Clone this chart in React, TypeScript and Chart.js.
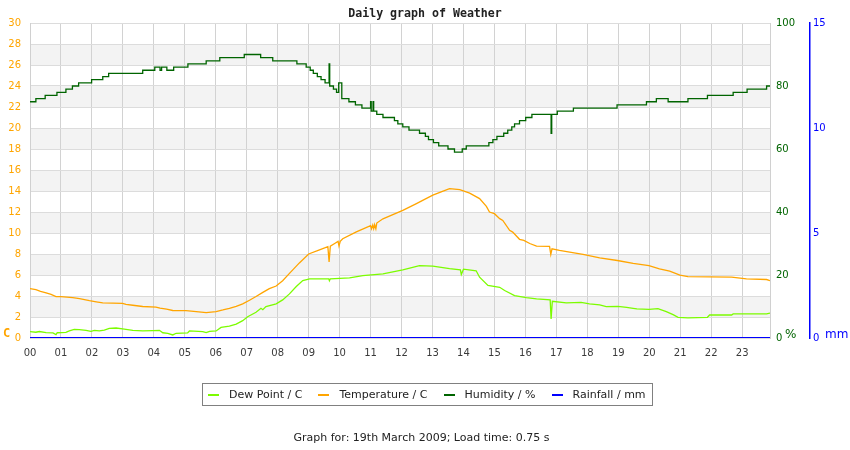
import React, { useEffect, useRef } from 'react';
import { Chart, registerables } from 'chart.js';

Chart.register(...registerables);

const hourLabels = ['00','01','02','03','04','05','06','07','08','09','10','11','12','13','14','15','16','17','18','19','20','21','22','23'];

const tempTimes = [0,0.19,0.34,0.52,0.68,0.84,1.0,1.38,1.6,1.92,2.14,2.35,2.99,3.1,3.32,3.64,4.07,4.2,4.41,4.61,5.04,5.37,5.69,6.01,6.23,6.44,6.66,6.87,7.09,7.3,7.52,7.73,7.95,8.16,8.38,8.7,9.0,9.35,9.62,9.66,9.7,9.84,9.95,9.98,10.02,10.1,10.54,11.0,11.03,11.07,11.1,11.13,11.17,11.2,11.4,12.04,12.48,13.01,13.3,13.55,13.88,14.2,14.52,14.74,14.84,15.0,15.17,15.27,15.49,15.59,15.81,15.95,16.14,16.36,16.78,16.82,16.86,17.1,17.43,17.86,18.4,18.97,19.48,19.99,20.33,20.66,20.99,21.25,22.66,23.14,23.79,23.9];
const tempValues = [4.7,4.6,4.45,4.3,4.15,3.95,3.95,3.85,3.75,3.55,3.45,3.35,3.3,3.2,3.12,3.0,2.95,2.85,2.75,2.62,2.6,2.52,2.42,2.52,2.67,2.83,3.02,3.25,3.6,3.95,4.35,4.7,4.95,5.45,6.15,7.15,8.0,8.4,8.7,7.25,8.75,9.0,9.2,8.75,9.2,9.45,10.1,10.7,10.4,10.75,10.4,10.8,10.4,10.95,11.35,12.15,12.8,13.6,13.95,14.23,14.13,13.8,13.28,12.54,12.0,11.84,11.37,11.2,10.25,10.09,9.4,9.3,9.0,8.75,8.72,7.96,8.5,8.34,8.18,7.96,7.64,7.38,7.1,6.9,6.59,6.36,5.98,5.85,5.79,5.64,5.57,5.47];

const dewTimes = [0,0.19,0.3,0.52,0.74,0.84,0.88,1.16,1.27,1.43,1.59,1.81,1.97,2.08,2.24,2.4,2.56,2.78,2.99,3.32,3.64,3.97,4.18,4.29,4.45,4.61,4.72,5.09,5.15,5.58,5.69,5.8,6.01,6.17,6.44,6.66,6.87,7.03,7.3,7.46,7.52,7.62,7.95,8.16,8.38,8.6,8.81,9.03,9.65,9.67,9.7,10.32,10.75,11.4,12.04,12.58,13.01,13.55,13.9,13.93,14.0,14.41,14.52,14.79,15.17,15.33,15.65,16.03,16.36,16.8,16.83,16.87,17.32,17.8,18.07,18.4,18.61,18.99,19.27,19.48,19.6,19.99,20.28,20.55,20.77,20.93,21.25,21.88,21.95,22.66,22.71,23.79,23.9];
const dewValues = [0.6,0.55,0.62,0.51,0.48,0.32,0.5,0.54,0.67,0.82,0.8,0.73,0.64,0.73,0.67,0.76,0.92,0.95,0.86,0.73,0.67,0.7,0.73,0.5,0.45,0.29,0.45,0.48,0.67,0.6,0.51,0.64,0.67,1.01,1.14,1.33,1.65,2.03,2.45,2.83,2.7,2.99,3.25,3.63,4.2,4.9,5.47,5.64,5.64,5.45,5.64,5.73,5.95,6.11,6.49,6.9,6.85,6.6,6.49,6.05,6.55,6.4,5.79,5.0,4.83,4.52,4.04,3.85,3.72,3.63,1.81,3.5,3.34,3.4,3.25,3.15,2.99,3.02,2.92,2.83,2.77,2.73,2.8,2.51,2.22,1.97,1.91,1.97,2.19,2.19,2.29,2.29,2.38];

const humTimes = [0,0.19,0.49,0.87,1.16,1.37,1.57,1.99,2.35,2.54,3.64,4.03,4.2,4.25,4.42,4.64,5.1,5.69,6.13,6.92,7.45,7.84,8.62,8.92,9.05,9.15,9.28,9.4,9.53,9.66,9.68,9.8,9.9,9.97,10.07,10.3,10.51,10.72,11.0,11.02,11.08,11.1,11.2,11.4,11.77,11.88,12.04,12.24,12.58,12.77,12.87,13.03,13.2,13.5,13.71,13.96,14.09,14.82,14.95,15.08,15.3,15.43,15.56,15.65,15.81,16.01,16.21,16.83,16.85,17.03,17.55,18.96,19.91,20.23,20.61,21.25,21.88,22.71,23.16,23.79,23.9];
const humValues = [75,76,77,78,79,80,81,82,83,84,85,86,85,86,85,86,87,88,89,90,89,88,87,86,85,84,83,82,81,87,80,79,78,81,76,75,74,73,75,72,75,72,71,70,69,68,67,66,65,64,63,62,61,60,59,60,61,62,63,64,65,66,67,68,69,70,71,65,71,72,73,74,75,76,75,76,77,78,79,80,80];

const rainTimes = [0, 23.9];
const rainValues = [0, 0];

const seriesLabels = ['Dew Point / C', 'Temperature / C', 'Humidity / %', 'Rainfall / mm'];
const seriesColors = ['#7cfc00', '#ffa500', '#006400', '#0000ff'];

const toPoints = (t: number[], v: number[]) => t.map((x, i) => ({ x, y: v[i] }));

const bandPlugin = {
  id: 'bands',
  beforeDraw(chart: any) {
    const { ctx, chartArea } = chart;
    const ys = chart.scales.y;
    ctx.save();
    ctx.fillStyle = '#f3f3f3';
    const ticks = ys.ticks;
    for (let i = 1; i < ticks.length - 1; i += 2) {
      const a = ys.getPixelForValue(ticks[i].value);
      const b = ys.getPixelForValue(ticks[i + 1].value);
      ctx.fillRect(chartArea.left, b, chartArea.right - chartArea.left, a - b);
    }
    ctx.restore();
  },
};

export default function App() {
  const ref = useRef<HTMLCanvasElement>(null);
  useEffect(() => {
    Chart.defaults.font.family = '"DejaVu Sans"';
    Chart.defaults.font.size = 10;
    const chart = new Chart(ref.current as HTMLCanvasElement, {
      type: 'line',
      data: {
        datasets: [
          { label: seriesLabels[3], data: toPoints(rainTimes, rainValues), yAxisID: 'y2', borderColor: seriesColors[3], borderWidth: 2, pointRadius: 0 },
          { label: seriesLabels[2], data: toPoints(humTimes, humValues), yAxisID: 'y1', stepped: 'before', borderColor: seriesColors[2], borderWidth: 1.3, pointRadius: 0 },
          { label: seriesLabels[0], data: toPoints(dewTimes, dewValues), yAxisID: 'y', borderColor: seriesColors[0], borderWidth: 1.3, pointRadius: 0 },
          { label: seriesLabels[1], data: toPoints(tempTimes, tempValues), yAxisID: 'y', borderColor: seriesColors[1], borderWidth: 1.3, pointRadius: 0 },
        ],
      } as any,
      options: {
        animation: false,
        responsive: false,
        layout: { padding: { top: 23, left: 0, right: 0, bottom: 0 } },
        plugins: { legend: { display: false }, tooltip: { enabled: false }, title: { display: false } },
        scales: {
          x: {
            type: 'linear', min: 0, max: 23.9,
            afterFit: (s: any) => { s.height = 112; },
            ticks: { stepSize: 1, includeBounds: false, autoSkip: false, maxRotation: 0, padding: 9, color: '#3a3a3a', callback: (v: any) => hourLabels[Math.round(Number(v))] },
            grid: { color: '#d2d2d2', drawTicks: false },
            border: { display: false },
          },
          y: {
            position: 'left', min: 0, max: 30,
            afterFit: (s: any) => { s.width = 30; },
            ticks: { stepSize: 2, padding: 9, color: '#ffa500' },
            grid: { color: '#dcdcdc', drawTicks: false },
            border: { color: '#d0d0d0' },
          },
          y1: {
            position: 'right', min: 0, max: 100, weight: 0,
            afterFit: (s: any) => { s.width = 40; },
            ticks: { stepSize: 20, padding: 6, color: '#006400' },
            grid: { drawOnChartArea: false, drawTicks: false },
            border: { color: '#d0d0d0' },
          },
          y2: {
            position: 'right', min: 0, max: 15, weight: 1,
            afterFit: (s: any) => { s.width = 40; },
            ticks: { stepSize: 5, padding: 3, color: '#0000ff' },
            grid: { drawOnChartArea: false, drawTicks: false },
            border: { color: '#0000ff', width: 1.5 },
          },
        },
      } as any,
      plugins: [bandPlugin],
    });
    return () => chart.destroy();
  }, []);

  const legendOrder = [0, 1, 2, 3];
  return (
    <div style={{ position: 'absolute', left: 0, top: 0, width: 850, height: 450, fontFamily: '"DejaVu Sans"', background: '#fff' }}>
      <canvas ref={ref} width={850} height={450} style={{ position: 'absolute', left: 0, top: 0, width: 850, height: 450 }} />
      <div style={{ position: 'absolute', left: 0, width: 850, top: 5, textAlign: 'center', fontFamily: '"DejaVu Sans Mono"', fontWeight: 'bold', fontSize: 11.6, lineHeight: '16px', color: '#222' }}>
        Daily graph of Weather
      </div>
      <div style={{ position: 'absolute', left: 3, top: 325, fontFamily: '"DejaVu Sans Mono"', fontWeight: 'bold', fontSize: 12, lineHeight: '16px', color: '#ffa500' }}>C</div>
      <div style={{ position: 'absolute', left: 785, top: 326, fontSize: 12, lineHeight: '16px', color: '#006400' }}>%</div>
      <div style={{ position: 'absolute', left: 825, top: 326, fontSize: 12, lineHeight: '16px', color: '#0000ff' }}>mm</div>
      <div style={{ position: 'absolute', left: 202, top: 383, height: 21, border: '1px solid #808080', display: 'flex', alignItems: 'center', paddingLeft: 5, paddingRight: 6, fontSize: 11, color: '#222', whiteSpace: 'nowrap' }}>
        {legendOrder.map((i, k) => (
          <div key={i} style={{ display: 'flex', alignItems: 'center', marginLeft: k === 0 ? 0 : 16 }}>
            <div style={{ width: 11, height: 2, background: seriesColors[i], marginRight: 10 }} />
            <span>{seriesLabels[i]}</span>
          </div>
        ))}
      </div>
      <div style={{ position: 'absolute', left: 0, width: 843, top: 430, textAlign: 'center', fontSize: 11, lineHeight: '16px', color: '#222' }}>
        Graph for: 19th March 2009; Load time: 0.75 s
      </div>
    </div>
  );
}
